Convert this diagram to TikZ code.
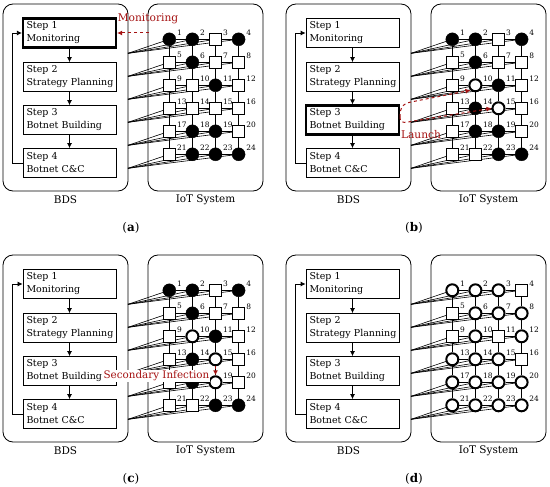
\documentclass[tikz,border=0pt]{standalone}
\usepackage{fontspec}
\setmainfont{DejaVu Serif}
\usetikzlibrary{arrows.meta,calc}
\definecolor{annot}{RGB}{165,18,18}
\pgfdeclarelayer{bg}
\pgfsetlayers{bg,main}
\tikzset{
 panelbox/.style={draw, rounded corners=10bp, line width=0.8bp},
 stepbox/.style={draw, line width=0.8bp, minimum width=93bp, minimum height=29bp, text width=86bp, inner xsep=3.5bp, inner ysep=1bp, align=left, font=\fontsize{9.5}{13}\selectfont},
 hot/.style={line width=2.2bp},
 iotsq/.style={draw, fill=white, rectangle, minimum size=12bp, inner sep=0pt, line width=0.6bp},
 iotbk/.style={circle, fill=black, draw=black, minimum size=13bp, inner sep=0pt},
 iotinf/.style={circle, draw=black, fill=white, line width=2bp, minimum size=12bp, inner sep=0pt},
 numlbl/.style={font=\fontsize{7.5}{8}\selectfont, inner sep=0pt, anchor=west},
 flow/.style={-{Latex[length=5bp,width=5bp]}, line width=0.8bp},
 wire/.style={line width=0.6bp},
 redarrow/.style={annot, dashed, line width=1bp, -{Latex[length=5bp,width=5bp]}},
 annotext/.style={text=annot, font=\fontsize{10.7}{12}\selectfont},
 capt/.style={font=\fontsize{10.5}{12}\selectfont},
 subcapt/.style={font=\fontsize{12}{14}\selectfont},
}
\newcommand\iotpanel[5]{%
\begin{scope}[shift={(#1,#2)}]
 \node[panelbox, minimum width=125bp, minimum height=187bp] (#3bds) at (65.5,97.5) {};
 \node[panelbox, minimum width=115bp, minimum height=187bp] (#3iot) at (205.5,97.5) {};
 \node[capt] (#3bdsl) at (65.5,200) {BDS};
 \node[capt] (#3iotl) at (205.5,200) {IoT System};
 \foreach \t/\y [count=\k] in {Monitoring/33, Strategy Planning/77, Botnet Building/120, Botnet C\&C/163} {
   \ifnum\k=#5\relax\tikzset{curstep/.style={hot}}\else\tikzset{curstep/.style={}}\fi
   \node[stepbox,curstep] (#3s\k) at (69.5,\y) {Step \k\\\mbox{\t}};
 }
 \foreach \k [evaluate=\k as \j using int(\k+1)] in {1,2,3} \draw[flow] (#3s\k) -- (#3s\j);
 \coordinate (#3fb1) at (12,163);
 \coordinate (#3fb2) at (12,33);
 \draw[flow] (#3s4.west) -- (#3fb1) -- (#3fb2) -- (#3s1.west);
 \foreach \st [count=\i from 0] in {#4} {
   \pgfmathtruncatemacro\cc{mod(\i,4)}
   \pgfmathtruncatemacro\rr{div(\i,4)}
   \pgfmathtruncatemacro\nn{\i+1}
   \node[\st] (#3n\nn) at ({169.3+23.1*\cc},{39.3+23*\rr}) {};
   \node[numlbl] (#3l\nn) at ({169.3+23.1*\cc+7.5},{39.3+23*\rr-7}) {\nn};
 }
 \begin{pgfonlayer}{bg}
  \foreach \r in {0,...,5} {
    \coordinate (#3o\r) at (128,{39.3+23*\r+14});
    \foreach \c in {1,...,4} {
      \pgfmathtruncatemacro\nn{4*\r+\c}
      \draw[wire] (#3o\r) -- (#3n\nn.center);
    }
    \foreach \c in {1,2,3} {
      \pgfmathtruncatemacro\nn{4*\r+\c}
      \pgfmathtruncatemacro\mm{4*\r+\c+1}
      \draw[wire] (#3n\nn) -- (#3n\mm);
    }
  }
  \foreach \c in {1,...,4} {
    \foreach \r in {0,...,4} {
      \pgfmathtruncatemacro\nn{4*\r+\c}
      \pgfmathtruncatemacro\mm{4*\r+\c+4}
      \draw[wire] (#3n\nn) -- (#3n\mm);
    }
  }
 \end{pgfonlayer}
\end{scope}}
\begin{document}
\begin{tikzpicture}[x=1bp,y=-1bp]
\useasboundingbox (0,0) rectangle (550,487);
% (a)
\iotpanel{0}{0}{a}{iotbk,iotbk,iotsq,iotbk, iotsq,iotbk,iotsq,iotsq, iotsq,iotsq,iotbk,iotsq, iotsq,iotsq,iotsq,iotsq, iotsq,iotbk,iotbk,iotsq, iotsq,iotbk,iotbk,iotbk}{1}
\node[subcapt] (capa) at (131,228) {(\textbf{a})};
\node[annotext] (mon) at (148,19) {Monitoring};
\coordinate (monstart) at (149,33);
\draw[redarrow] (monstart) -- (as1.east);
% (b)
\iotpanel{283}{0}{b}{iotbk,iotbk,iotsq,iotbk, iotsq,iotbk,iotsq,iotsq, iotsq,iotinf,iotbk,iotsq, iotsq,iotbk,iotinf,iotsq, iotsq,iotbk,iotbk,iotsq, iotsq,iotsq,iotbk,iotbk}{3}
\node[subcapt] (capb) at (414,228) {(\textbf{b})};
\node[annotext] (launch) at (421,135) {Launch};
\coordinate (lst) at (400,117);
\draw[redarrow] (lst) .. controls (400,106) and (404,103) .. (411,102) -- (bn10.south west);
\draw[redarrow] (lst) .. controls (400,122) and (402,123) .. (408,122) -- (bn15.west);
% (c)
\iotpanel{0}{251}{c}{iotbk,iotbk,iotsq,iotbk, iotsq,iotbk,iotsq,iotsq, iotsq,iotinf,iotbk,iotsq, iotsq,iotbk,iotinf,iotsq, iotsq,iotbk,iotinf,iotsq, iotsq,iotsq,iotbk,iotbk}{0}
\node[subcapt] (capc) at (131,479) {(\textbf{c})};
\node[annotext, font=\fontsize{10.4}{12}\selectfont, fill=white, inner sep=1bp] (secinf) at (156.5,376) {Secondary Infection};
\draw[redarrow] (cn15) -- (cn19);
% (d)
\iotpanel{283}{251}{d}{iotinf,iotinf,iotinf,iotsq, iotsq,iotinf,iotinf,iotinf, iotsq,iotinf,iotsq,iotinf, iotinf,iotinf,iotinf,iotsq, iotinf,iotinf,iotinf,iotinf, iotinf,iotinf,iotinf,iotinf}{0}
\node[subcapt] (capd) at (414,479) {(\textbf{d})};
\end{tikzpicture}
\end{document}
